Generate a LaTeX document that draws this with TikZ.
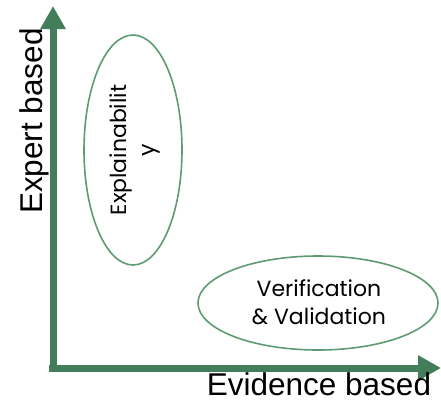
\documentclass[tikz,border=0pt]{standalone}
\usepackage{fontspec}
\setmainfont{Liberation Sans}
\newfontfamily\roundfont{Poppins}
\usetikzlibrary{arrows.meta}
\definecolor{axisgreen}{HTML}{437D59}
\definecolor{ringgreen}{HTML}{5E9A72}
\tikzset{
  axisline/.style={draw=axisgreen, line width=7pt,
    -{Triangle[length=23pt,width=24pt]}},
  region/.style={draw=ringgreen, line width=1.6pt},
  axislabel/.style={font=\fontsize{31.5}{36}\selectfont, text=black, inner sep=0pt},
  regionlabel/.style={font=\roundfont\fontsize{22}{28}\selectfont, align=center, inner sep=0pt}
}
\begin{document}
\begin{tikzpicture}[x=1pt,y=1pt]
  \useasboundingbox (0,0) rectangle (441,-402);
  % axes
  \coordinate (O) at (53,-368);
  \coordinate (ytop) at (53,-6);
  \coordinate (xend) at (441,-368);
  \coordinate (corner) at (49,-368);
  \draw[axisline] (O) -- (ytop);
  \draw[axisline] (corner) -- (xend);
  \fill[axisgreen] (49.5,-371.5) rectangle (56.5,-364.5);
  % axis labels
  \node[axislabel, rotate=90] (ylab) at (34,-121) {Expert based};
  \node[axislabel, anchor=base] (xlab) at (319,-395) {Evidence based};
  % regions
  \draw[region] (133,-150) ellipse [x radius=49, y radius=115];
  \draw[region] (318,-303) ellipse [x radius=120, y radius=47];
  \node[regionlabel, rotate=90] (expl) at (135,-150) {Explainabilit\\y};
  \node[regionlabel] (vv) at (319,-302) {Verification\\\& Validation};
\end{tikzpicture}
\end{document}
